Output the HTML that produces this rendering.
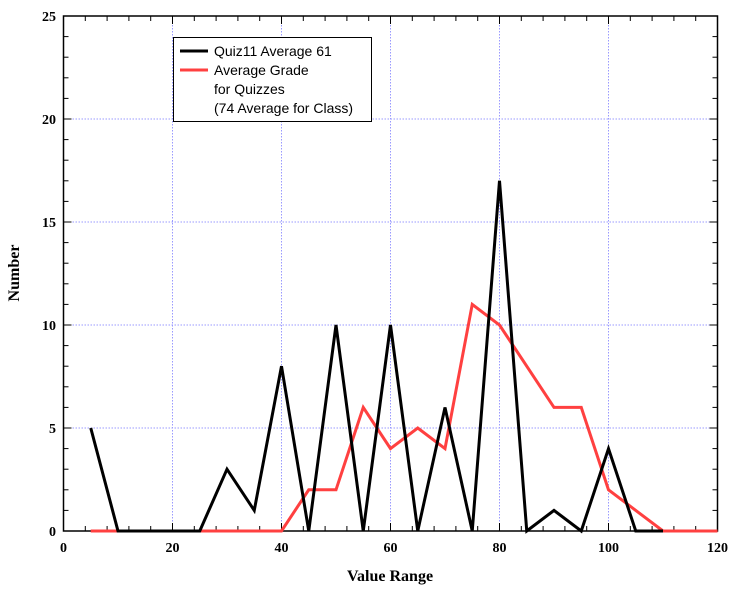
<!DOCTYPE html>
<html><head><meta charset="utf-8"><style>
body{margin:0;background:#fff}
text{font-family:"Liberation Serif",serif}
</style></head><body>
<svg id="chart" width="747" height="587" xmlns="http://www.w3.org/2000/svg"></svg>
<script>
const xValues=[5,10,15,20,25,30,35,40,45,50,55,60,65,70,75,80,85,90,95,100,105,110];
const quizCounts=[5,0,0,0,0,3,1,8,0,10,0,10,0,6,0,17,0,1,0,4,0,0];
const avgXValues=[5,10,15,20,25,30,35,40,45,50,55,60,65,70,75,80,85,90,95,100,105,110,115,120];
const avgCounts=[0,0,0,0,0,0,0,0,2,2,6,4,5,4,11,10,8,6,6,2,1,0,0,0];
const xTicks=[0,20,40,60,80,100,120];
const yTicks=[0,5,10,15,20,25];
const L=63.5,R=717.5,T=16,B=531;
const sx=v=>L+(v-0)/120*(R-L);
const sy=v=>B-(v/25)*(B-T);
const svg=document.getElementById('chart');
const NS='http://www.w3.org/2000/svg';
function mk(tag,attrs,name){const e=document.createElementNS(NS,tag);for(const k in attrs)e.setAttribute(k,attrs[k]);


svg.appendChild(e);return e;}
// grid
xTicks.slice(1,-1).forEach(v=>mk('line',{x1:sx(v),x2:sx(v),y1:T,y2:B,stroke:'#9999ff','stroke-dasharray':'1.5,1.5','stroke-width':1},'x-gridline'));
yTicks.slice(1,-1).forEach(v=>mk('line',{x1:L,x2:R,y1:sy(v),y2:sy(v),stroke:'#9999ff','stroke-dasharray':'1.5,1.5','stroke-width':1},'y-gridline'));
// ticks
for(let v=0;v<=120;v+=4){const len=(v%20===0)?8:5;
mk('line',{x1:sx(v),x2:sx(v),y1:B,y2:B-len,stroke:'#000','stroke-width':1},'x-tick');
mk('line',{x1:sx(v),x2:sx(v),y1:T,y2:T+len,stroke:'#000','stroke-width':1},'x-tick-top');}
for(let v=0;v<=25;v+=1){const len=(v%5===0)?8:5;
mk('line',{x1:L,x2:L+len,y1:sy(v),y2:sy(v),stroke:'#000','stroke-width':1},'y-tick');
mk('line',{x1:R,x2:R-len,y1:sy(v),y2:sy(v),stroke:'#000','stroke-width':1},'y-tick-right');}
mk('rect',{x:L,y:T,width:R-L,height:B-T,fill:'none',stroke:'#000','stroke-width':1.5},'plot-frame');
xTicks.forEach(v=>{const t=mk('text',{x:sx(v),y:552,'text-anchor':'middle','font-size':14,'font-weight':'bold'},'x-tick-label');t.textContent=v;});
yTicks.forEach(v=>{const t=mk('text',{x:56,y:sy(v)+5,'text-anchor':'end','font-size':14,'font-weight':'bold'},'y-tick-label');t.textContent=v;});
const xt=mk('text',{x:390,y:581,'text-anchor':'middle','font-size':16,'font-weight':'bold'},'x-axis-title');xt.textContent='Value Range';
const yt=mk('text',{x:19,y:273,'text-anchor':'middle','font-size':16,'font-weight':'bold',transform:'rotate(-90 19 273)'},'y-axis-title');yt.textContent='Number';
mk('polyline',{points:avgXValues.map((x,i)=>sx(x)+','+sy(avgCounts[i])).join(' '),fill:'none',stroke:'#ff4040','stroke-width':3,'stroke-linejoin':'miter'},'series-average-grade');
mk('polyline',{points:xValues.map((x,i)=>sx(x)+','+sy(quizCounts[i])).join(' '),fill:'none',stroke:'#000','stroke-width':3,'stroke-linejoin':'miter'},'series-quiz11');
// legend
mk('rect',{x:173.5,y:37.5,width:198,height:84,fill:'#fff',stroke:'#000','stroke-width':1},'legend-box');
mk('line',{x1:180,x2:208,y1:51,y2:51,stroke:'#000','stroke-width':3},'legend-quiz11-swatch');
mk('line',{x1:180,x2:208,y1:70,y2:70,stroke:'#ff4040','stroke-width':3},'legend-average-swatch');
[['Quiz11 Average 61',56],['Average Grade',75],['for Quizzes',94],['(74 Average for Class)',113]].forEach(([s,y])=>{
const t=mk('text',{x:214,y:y,'font-size':14},'legend-label');t.style.fontFamily='"Liberation Sans",sans-serif';t.textContent=s;});
</script>
</body></html>
